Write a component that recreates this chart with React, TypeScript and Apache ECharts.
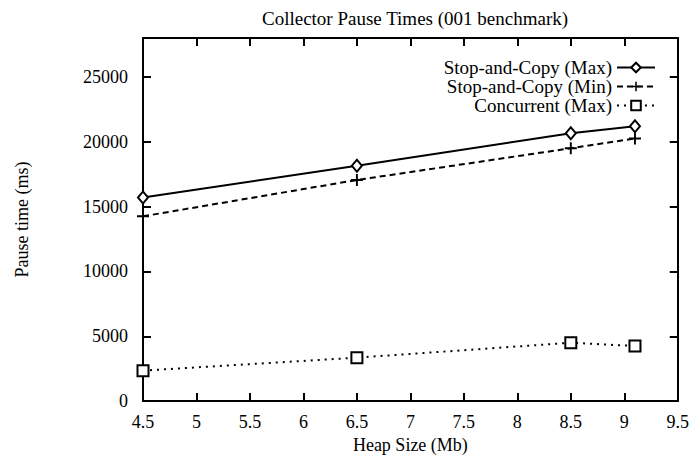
import React, { useEffect, useRef } from "react";
import * as echarts from "echarts";

const heapSizes = [4.5, 6.5, 8.5, 9.1];
const stopCopyMax = [15700, 18150, 20650, 21200];
const stopCopyMin = [14250, 17050, 19500, 20250];
const concurrentMax = [2350, 3350, 4500, 4250];
const seriesNames = ["Stop-and-Copy (Max)", "Stop-and-Copy (Min)", "Concurrent (Max)"];

const FONT = "Liberation Serif";
const PLUS = "path://M4.2,0H5.8V4.2H10V5.8H5.8V10H4.2V5.8H0V4.2H4.2Z";

export default function App() {
  const ref = useRef<HTMLDivElement>(null);
  useEffect(() => {
    if (!ref.current) return;
    const chart = echarts.init(ref.current, undefined, { renderer: "svg" });
    const pair = (ys: number[]) => heapSizes.map((x, i) => [x, ys[i]]);
    const axisCommon = {
      axisLine: { show: true, onZero: false, lineStyle: { color: "#000", width: 2 } },
      axisTick: { show: true, inside: true, length: 8, lineStyle: { color: "#000", width: 2 } },
      splitLine: { show: false },
    };
    chart.setOption({
      animation: false,
      backgroundColor: "#fff",
      textStyle: { fontFamily: FONT, color: "#000" },
      title: {
        text: "Collector Pause Times (001 benchmark)",
        left: 410,
        top: 4,
        textAlign: "center",
        textStyle: { fontFamily: FONT, fontSize: 19, fontWeight: "normal", color: "#000" },
      },
      legend: {
        orient: "vertical",
        align: "right",
        right: 36,
        top: 58,
        padding: 0,
        itemWidth: 38,
        itemHeight: 12,
        itemGap: 0,
        textStyle: { fontFamily: FONT, fontSize: 19, lineHeight: 19, color: "#000", padding: [0, 0, 0, 0] },
        data: seriesNames,
      },
      grid: { left: 143, right: 14, top: 38, bottom: 51 },
      xAxis: [
        {
          type: "value",
          min: 4.5,
          max: 9.5,
          interval: 0.5,
          name: "Heap Size (Mb)",
          nameLocation: "middle",
          nameGap: 33,
          nameTextStyle: { fontFamily: FONT, fontSize: 18, color: "#000" },
          axisLabel: { fontFamily: FONT, fontSize: 18, color: "#000", margin: 12 },
          ...axisCommon,
        },
        {
          type: "value",
          position: "top",
          min: 4.5,
          max: 9.5,
          interval: 0.5,
          axisLabel: { show: false },
          ...axisCommon,
        },
      ],
      yAxis: [
        {
          type: "value",
          min: 0,
          max: 28000,
          interval: 5000,
          name: "Pause time (ms)",
          nameLocation: "middle",
          nameGap: 112,
          nameTextStyle: { fontFamily: FONT, fontSize: 18, color: "#000" },
          axisLabel: {
            fontFamily: FONT,
            fontSize: 18,
            color: "#000",
            margin: 15,
            showMaxLabel: false,
            formatter: (v: number) => String(v),
          },
          ...axisCommon,
        },
        {
          type: "value",
          position: "right",
          min: 0,
          max: 28000,
          interval: 5000,
          axisLabel: { show: false },
          ...axisCommon,
        },
      ],
      series: [
        {
          name: seriesNames[0],
          type: "line",
          data: pair(stopCopyMax),
          symbol: "diamond",
          symbolSize: [10, 12],
          lineStyle: { color: "#000", width: 2, type: "solid" },
          itemStyle: { color: "#fff", borderColor: "#000", borderWidth: 2 },
        },
        {
          name: seriesNames[1],
          type: "line",
          data: pair(stopCopyMin),
          symbol: PLUS,
          symbolSize: 12,
          lineStyle: { color: "#000", width: 2, type: [6, 4] },
          itemStyle: { color: "#000", borderWidth: 0 },
        },
        {
          name: seriesNames[2],
          type: "line",
          data: pair(concurrentMax),
          symbol: "rect",
          symbolSize: 11,
          lineStyle: { color: "#000", width: 2, type: [2, 5] },
          itemStyle: { color: "#fff", borderColor: "#000", borderWidth: 2 },
        },
      ],
    });
    return () => chart.dispose();
  }, []);
  return <div ref={ref} style={{ width: 692, height: 459, position: "absolute", left: 0, top: 0 }} />;
}
